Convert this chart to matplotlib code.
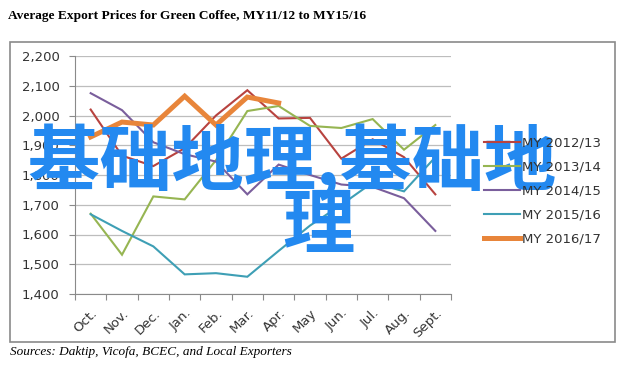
import numpy as np
import matplotlib.pyplot as plt
from matplotlib.patches import Rectangle
from matplotlib.ticker import FuncFormatter

months = ['Oct.', 'Nov.', 'Dec.', 'Jan.', 'Feb.', 'Mar.', 'Apr.', 'May', 'Jun.', 'Jul.', 'Aug.', 'Sept.']

my_2012_13 = [2020, 1865, 1830, 1890, 2000, 2085, 1990, 1992, 1855, 1920, 1860, 1735]
my_2013_14 = [1670, 1532, 1728, 1718, 1850, 2015, 2032, 1965, 1958, 1988, 1885, 1968]
my_2014_15 = [2075, 2018, 1910, 1870, 1845, 1735, 1835, 1800, 1768, 1760, 1722, 1612]
my_2015_16 = [1668, 1612, 1560, 1466, 1470, 1458, 1545, 1630, 1700, 1775, 1745, 1860]
my_2016_17 = [1928, 1978, 1968, 2065, 1968, 2062, 2042]

series_names = ['MY 2012/13', 'MY 2013/14', 'MY 2014/15', 'MY 2015/16', 'MY 2016/17']
series_data = [my_2012_13, my_2013_14, my_2014_15, my_2015_16, my_2016_17]
colors = ['#B8433F', '#96B552', '#7A5E9C', '#3E9FB5', '#E8853A']
widths = [1.5, 1.5, 1.5, 1.5, 3.6]

W, H = 628, 372
fig = plt.figure(figsize=(W / 100, H / 100), dpi=100)

# outer chart frame
fig.patches.append(Rectangle((10 / W, 1 - 342 / H), 605 / W, 300 / H, transform=fig.transFigure,
                             fill=False, edgecolor='#8A8A8A', linewidth=1.2))

ax = fig.add_axes([75 / W, 1 - 294 / H, 376 / W, 238 / H])
x = np.arange(len(months))
for name, vals, c, lw in zip(series_names, series_data, colors, widths):
    ax.plot(x[:len(vals)], vals, color=c, linewidth=lw, label=name, solid_joinstyle='miter')

ax.set_xlim(-0.5, len(months) - 0.5)
ax.set_ylim(1400, 2200)
ax.set_yticks(np.arange(1400, 2201, 100))
ax.yaxis.set_major_formatter(FuncFormatter(lambda v, p: f'{v:,.0f}'))
ax.grid(axis='y', color='#BDBDBD', linewidth=0.9)
ax.set_axisbelow(True)

# ticks between categories, labels at centres
ax.set_xticks(np.arange(-0.5, len(months), 1.0))
ax.set_xticklabels([])
ax.set_xticks(x, minor=True)
ax.set_xticklabels(months, minor=True, rotation=45, ha='right', va='top', rotation_mode='anchor',
                   fontsize=9.5, color='#333333')
ax.tick_params(axis='x', which='minor', length=0, pad=9)
ax.tick_params(axis='x', which='major', length=4, color='#8A8A8A')
ax.tick_params(axis='y', length=4, color='#8A8A8A', labelsize=9.5, labelcolor='#333333', pad=7)

for s in ['top', 'right']:
    ax.spines[s].set_visible(False)
for s in ['left', 'bottom']:
    ax.spines[s].set_color('#8A8A8A')

fig.legend(loc='center left', bbox_to_anchor=(472 / W, 1 - 191 / H), frameon=False,
           fontsize=9.5, handlelength=2.7, handletextpad=0.2, labelspacing=0.82,
           labelcolor='#333333')

fig.text(8 / W, 1 - 16 / H, 'Average Export Prices for Green Coffee, MY11/12 to MY15/16',
         family='Liberation Serif', weight='bold', fontsize=9.6, va='center', ha='left')
fig.text(10 / W, 1 - 352 / H, 'Sources: Daktip, Vicofa, BCEC, and Local Exporters',
         family='Liberation Serif', style='italic', fontsize=9.5, va='center', ha='left')

# overlay text
fig.text(292 / W, 1 - 162 / H, '基础地理,基础地', family=['Noto Sans CJK SC', 'DejaVu Sans'],
         weight='bold', fontsize=52, color='#2389F0', ha='center', va='center')
fig.text(318 / W, 1 - 227 / H, '理', family=['Noto Sans CJK SC', 'DejaVu Sans'],
         weight='bold', fontsize=52, color='#2389F0', ha='center', va='center')

fig.savefig('out.png', dpi=100)
